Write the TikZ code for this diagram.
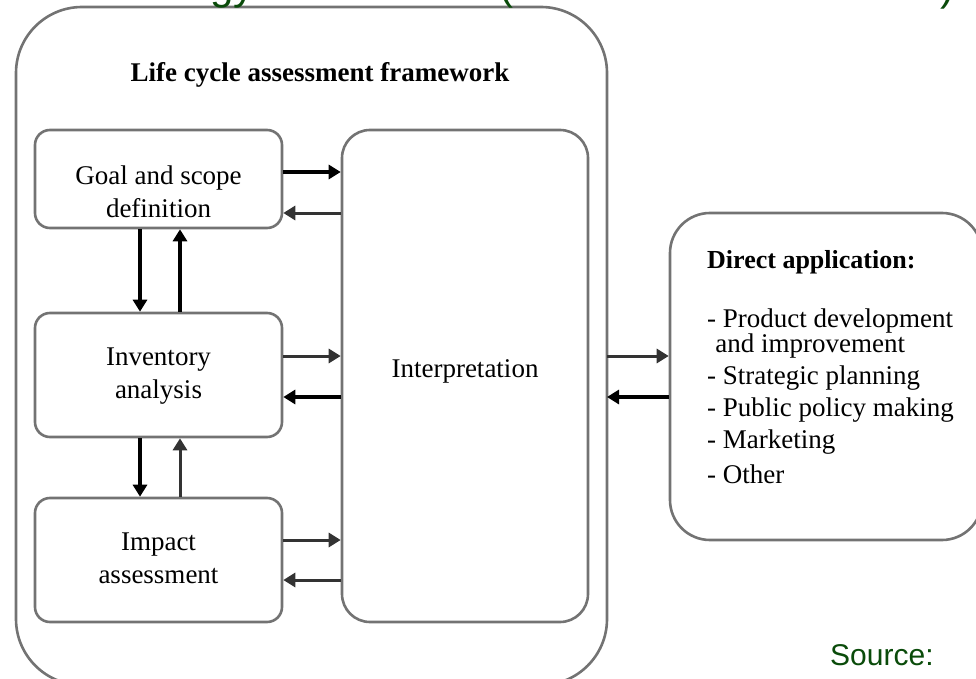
\documentclass[tikz,border=0pt]{standalone}
\usepackage{fontspec}
\setmainfont{Liberation Serif}
\newfontfamily\headsans{Liberation Sans}
\usetikzlibrary{arrows.meta}
\definecolor{boxgray}{RGB}{115,115,115}
\definecolor{srcgreen}{RGB}{10,75,10}
\tikzset{
  rbox/.style={draw=boxgray, line width=2.6pt, rounded corners=15pt, inner sep=0pt},
  boxtext/.style={inner sep=0pt, align=center, font=\fontsize{27}{33}\selectfont},
  listtext/.style={inner sep=0pt, anchor=base west, font=\fontsize{27}{31}\selectfont},
  arr/.style={draw=black, line width=3.4pt, -{Triangle[length=12pt,width=14pt]}},
  arrg/.style={draw=black!80, line width=3pt, -{Triangle[length=12pt,width=14pt]}},
  greentxt/.style={text=srcgreen, inner sep=0pt, font=\headsans\fontsize{42}{42}\selectfont}
}
\begin{document}
\begin{tikzpicture}[x=1pt,y=-1pt]
\useasboundingbox (0,0) rectangle (976,679);
\clip (0,0) rectangle (976,679);
% outer frame
\draw[draw=boxgray, line width=2.6pt, rounded corners=66pt] (16,7) rectangle (607,685);
\node[font=\bfseries\fontsize{27}{30}\selectfont, inner sep=0pt] (title) at (320,75) {Life cycle assessment framework};
% boxes
\node[rbox, minimum width=247pt, minimum height=98pt] (goal) at (158.5,179) {};
\node[boxtext] (goaltxt) at (158.5,192) {Goal and scope\\definition};
\node[rbox, minimum width=247pt, minimum height=124pt] (inv) at (158.5,375) {};
\node[boxtext] (invtxt) at (158.5,376) {Inventory\\analysis};
\node[rbox, minimum width=247pt, minimum height=124pt] (imp) at (158.5,560) {};
\node[boxtext] (imptxt) at (158.5,558) {Impact\\assessment};
\node[rbox, minimum width=246pt, minimum height=492pt, rounded corners=28pt] (interp) at (465,376) {};
\node[boxtext] (interptxt) at (465,371) {Interpretation};
\node[rbox, minimum width=312pt, minimum height=327pt, rounded corners=40pt] (direct) at (826,376.5) {};
\node[listtext, font=\bfseries\fontsize{26}{30}\selectfont] (d0) at (707,268) {Direct application:};
\node[listtext] (d1) at (707,327) {- Product development};
\node[listtext] (d2) at (707,352) {\hspace*{0.3em}and improvement};
\node[listtext] (d3) at (707,384) {- Strategic planning};
\node[listtext] (d4) at (707,416) {- Public policy making};
\node[listtext] (d5) at (707,448) {- Marketing};
\node[listtext] (d6) at (707,483) {- Other};
% outer frame right side
\coordinate (frameR) at (607,376);
% arrows goal <-> interp
\draw[arr] (goal.east |- 0,172) -- (interp.west |- 0,172);
\draw[arrg] (interp.west |- 0,213) -- (goal.east |- 0,213);
% inventory <-> interp
\draw[arrg] (inv.east |- 0,356) -- (interp.west |- 0,356);
\draw[arr] (interp.west |- 0,397) -- (inv.east |- 0,397);
% impact <-> interp
\draw[arrg] (imp.east |- 0,540) -- (interp.west |- 0,540);
\draw[arrg] (interp.west |- 0,580) -- (imp.east |- 0,580);
% vertical goal <-> inv
\draw[arr] (goal.south -| 140,0) -- (inv.north -| 140,0);
\draw[arr] (inv.north -| 180,0) -- (goal.south -| 180,0);
% vertical inv <-> imp
\draw[arr] (inv.south -| 140,0) -- (imp.north -| 140,0);
\draw[arrg] (imp.north -| 180,0) -- (inv.south -| 180,0);
% frame <-> direct
\draw[arrg] (frameR |- 0,356) -- (direct.west |- 0,356);
\draw[arr] (direct.west |- 0,397) -- (frameR |- 0,397);
% green fragments
\node[greentxt, anchor=base west] (frag1) at (210,0) {gy};
\node[greentxt, anchor=base west] (frag2) at (499,0) {(};
\node[greentxt, anchor=base west] (frag3) at (940,1) {)};
\node[greentxt, anchor=base west, font=\headsans\fontsize{30}{30}\selectfont] (src) at (830,665) {Source:};
\end{tikzpicture}
\end{document}
